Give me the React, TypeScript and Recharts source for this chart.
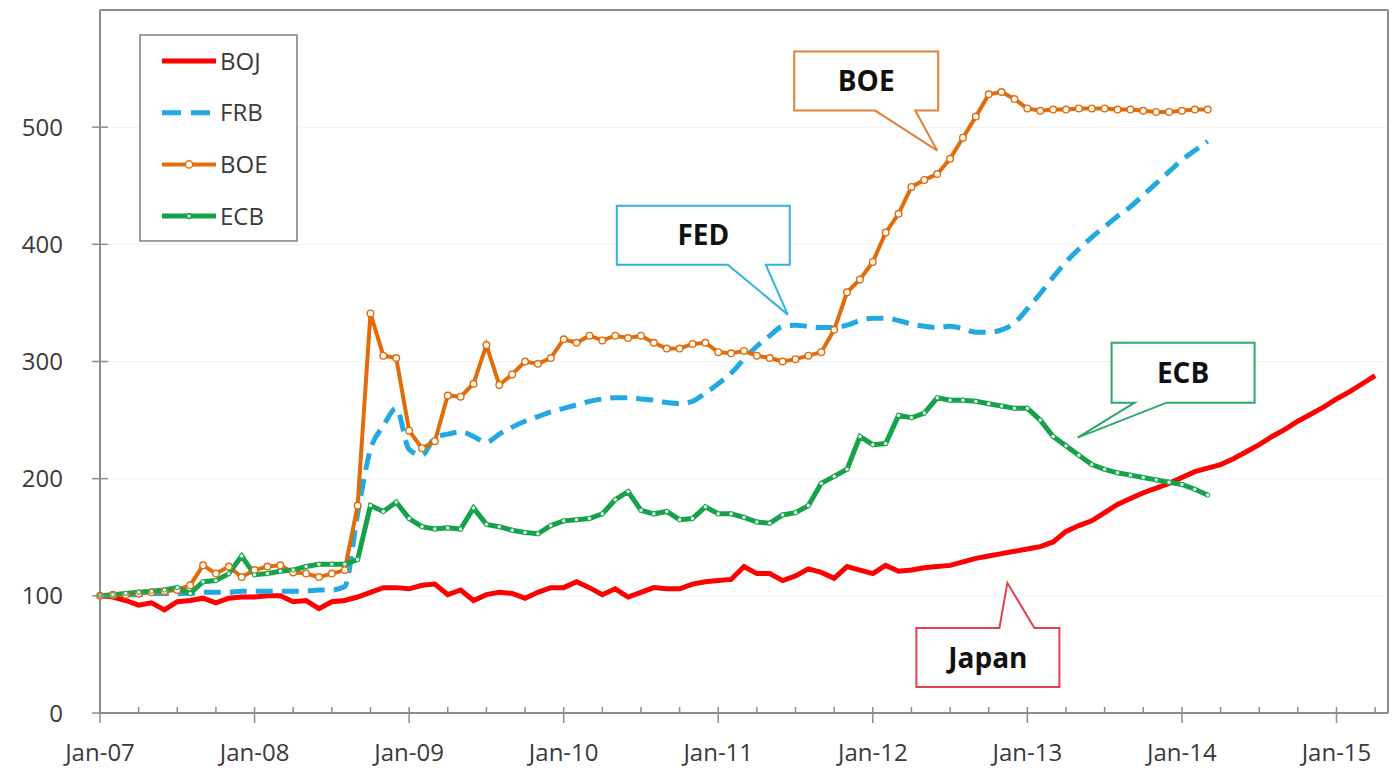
import {
  CartesianGrid,
  Legend,
  Line,
  LineChart,
  ReferenceDot,
  ReferenceLine,
  XAxis,
  YAxis
} from 'recharts';

const FONT = '"Open Sans", "Liberation Sans", sans-serif';
const AXIS = '#8c8c8c';
const TEXT = '#3a3a3a';

const colors = {
  BOJ: '#ff0000',
  FRB: '#22a9e1',
  BOE: '#e36c0a',
  ECB: '#14a34a'
};

// one row per month, Jan-07 = 0
const yearLabels = ['Jan-07', 'Jan-08', 'Jan-09', 'Jan-10', 'Jan-11', 'Jan-12', 'Jan-13', 'Jan-14', 'Jan-15'];
const monthTicks = [0, 3, 6, 9, 12, 15, 18, 21, 24, 27, 30, 33, 36, 39, 42, 45, 48, 51, 54, 57, 60, 63, 66, 69, 72, 75, 78, 81, 84, 87, 90, 93, 96, 99];
const yTicks = [0, 100, 200, 300, 400, 500];

const boj = [
  100, 99, 96, 92, 94, 88, 95, 96, 98, 94,
  98, 99, 99, 100, 100, 95, 96, 89, 95, 96,
  99, 103, 107, 107, 106, 109, 110, 101, 105, 96,
  101, 103, 102, 98, 103, 107, 107, 112, 107, 101,
  106, 99, 103, 107, 106, 106, 110, 112, 113, 114,
  125, 119, 119, 113, 117, 123, 120, 115, 125, 122,
  119, 126, 121, 122, 124, 125, 126, 129, 132, 134,
  136, 138, 140, 142, 146, 155, 160, 164, 171, 178,
  183, 188, 192, 196, 201, 206, 209, 212, 217, 223,
  229, 236, 242, 249, 255, 261, 268, 274, 281, 288
];

const frb = [
  100, 100, 101, 101, 102, 102, 102, 102, 103, 103,
  103, 104, 104, 104, 104, 104, 104, 105, 105, 108,
  170, 225, 245, 260, 225, 220, 235, 238, 240, 236,
  231, 238, 244, 249, 253, 257, 260, 263, 266, 268,
  269, 269, 268, 267, 265, 264, 266, 273, 281, 290,
  302, 313, 322, 330, 331, 330, 329, 329, 331, 335,
  337, 337, 335, 332, 330, 329, 330, 328, 325, 325,
  327, 333, 345, 358, 372, 385, 396, 406, 415, 424,
  432, 442, 452, 462, 472, 480, 488
];

const boe = [
  100, 101, 101, 102, 103, 104, 105, 109, 126, 119,
  125, 116, 122, 125, 126, 120, 119, 116, 119, 122,
  177, 341, 305, 303, 241, 226, 232, 271, 270, 281,
  314, 280, 289, 300, 298, 303, 319, 316, 322, 318,
  322, 320, 322, 316, 311, 311, 315, 316, 308, 307,
  309, 305, 303, 300, 302, 305, 308, 327, 359, 370,
  385, 410, 426, 449, 455, 460, 473, 491, 509, 528,
  530, 524, 516, 514, 515, 515, 516, 516, 516, 515,
  515, 514, 513, 513, 514, 515, 515
];

const ecb = [
  100, 101, 102, 103, 104, 105, 107, 102, 112, 113,
  119, 134, 118, 119, 121, 122, 125, 127, 127, 127,
  131, 177, 172, 180, 166, 159, 157, 158, 157, 175,
  161, 159, 156, 154, 153, 160, 164, 165, 166, 170,
  182, 189, 173, 170, 172, 165, 166, 176, 170, 170,
  167, 163, 162, 169, 171, 177, 196, 202, 208, 236,
  229, 230, 254, 252, 256, 269, 267, 267, 266, 264,
  262, 260, 260, 250, 236, 228, 220, 212, 208, 205,
  203, 201, 199, 197, 195, 191, 186
];

const data = boj.map((v, i) => ({ m: i, BOJ: v, FRB: frb[i], BOE: boe[i], ECB: ecb[i] }));

// callout boxes: tip anchored in data space, box drawn in px around it
const callouts = [
  { label: 'BOE', m: 65, v: 480, color: '#e0813c', box: [-143, 1, -99, -40], tail: [-62, -22], edge: 'bottom' },
  { label: 'FED', m: 53.4, v: 340, color: '#35b3de', box: [-171, 2, -109, -50], tail: [-60, -22], edge: 'bottom' },
  { label: 'ECB', m: 75.9, v: 235, color: '#2ea86a', box: [34, 177, -95, -35], tail: [57, 89], edge: 'bottom' },
  { label: 'Japan', m: 70.45, v: 111, color: '#e2404f', box: [-91, 52, 45, 104], tail: [-8, 27], edge: 'top' }
];

type Callout = (typeof callouts)[number];

const makeCallout = (c: Callout) => (props: any) => {
  const { cx, cy } = props;
  const [l, r, t, b] = c.box;
  const [t0, t1] = c.tail;
  const L = cx + l;
  const R = cx + r;
  const T = cy + t;
  const B = cy + b;
  const d =
    c.edge === 'bottom'
      ? `M${L},${T} L${R},${T} L${R},${B} L${cx + t1},${B} L${cx},${cy} L${cx + t0},${B} L${L},${B} Z`
      : `M${L},${T} L${cx + t0},${T} L${cx},${cy} L${cx + t1},${T} L${R},${T} L${R},${B} L${L},${B} Z`;
  return (
    <g>
      <path d={d} fill="#fff" stroke={c.color} strokeWidth={2} strokeLinejoin="miter" />
      <text x={(L + R) / 2} y={(T + B) / 2} dy="0.36em" textAnchor="middle" fontFamily={FONT} fontWeight={700} fontSize={28} fill="#111">
        {c.label}
      </text>
    </g>
  );
};

const XTick = (props: any) => {
  const { x, y, payload } = props;
  const major = payload.value % 12 === 0;
  return (
    <g>
      <line x1={x} x2={x} y1={y - 6} y2={major ? y + 10 : y} stroke={AXIS} strokeWidth={1.5} />
      {major && (
        <text x={x} y={y + 48} textAnchor="middle" fontFamily={FONT} fontSize={24} fill={TEXT}>
          {yearLabels[payload.value / 12]}
        </text>
      )}
    </g>
  );
};

const YTick = (props: any) => {
  const { x, y, payload } = props;
  return (
    <g>
      <line x1={x - 8} x2={x + 8} y1={y} y2={y} stroke={AXIS} strokeWidth={1.5} />
      <text x={x - 37} y={y} dy="0.36em" textAnchor="end" fontFamily={FONT} fontSize={24} fill={TEXT}>
        {payload.value}
      </text>
    </g>
  );
};

const legendItems = [
  { key: 'BOJ', dash: undefined, dot: 0, width: 5 },
  { key: 'FRB', dash: '19 10', dot: 0, width: 5 },
  { key: 'BOE', dash: undefined, dot: 3.6, width: 4 },
  { key: 'ECB', dash: undefined, dot: 2.4, width: 5 }
] as const;

const LegendBox = () => (
  <svg width={160} height={209} style={{ display: 'block' }}>
    <rect x={1} y={1} width={157} height={206} fill="#fff" stroke="#7f7f7f" strokeWidth={1.5} />
    {legendItems.map((it, i) => {
      const cy = 27 + i * 51.7;
      const color = colors[it.key];
      return (
        <g key={it.key}>
          <line x1={23} x2={77} y1={cy} y2={cy} stroke={color} strokeWidth={it.width} strokeDasharray={it.dash} />
          {it.dot > 0 && <circle cx={50} cy={cy} r={it.dot} fill="#fff" stroke={color} strokeWidth={1.4} />}
          <text x={81} y={cy} dy="0.36em" fontFamily={FONT} fontSize={24} fill={TEXT}>
            {it.key}
          </text>
        </g>
      );
    })}
  </svg>
);

export default function App() {
  return (
    <div style={{ position: 'absolute', left: 0, top: 0, background: '#fff' }}>
      <LineChart width={1393} height={771} data={data} margin={{ top: 10, right: 5, left: 0, bottom: 8 }}>
        <CartesianGrid vertical={false} stroke="#f2f2f2" />
        <XAxis
          dataKey="m"
          type="number"
          domain={[0, 100]}
          ticks={monthTicks}
          interval={0}
          height={50}
          tickSize={0}
          tickMargin={0}
          tickLine={false}
          tick={<XTick />}
          axisLine={{ stroke: AXIS, strokeWidth: 2 }}
        />
        <YAxis
          type="number"
          domain={[0, 600]}
          ticks={yTicks}
          interval={0}
          width={100}
          tickSize={0}
          tickMargin={0}
          tickLine={false}
          tick={<YTick />}
          axisLine={{ stroke: AXIS, strokeWidth: 2 }}
        />
        <ReferenceLine y={600} stroke={AXIS} strokeWidth={2} />
        <ReferenceLine x={100} stroke={AXIS} strokeWidth={2} />
        <Legend
          layout="vertical"
          align="center"
          verticalAlign="middle"
          content={<LegendBox />}
          wrapperStyle={{ left: 139, top: 34, width: 160, height: 209 }}
        />
        <Line type="linear" dataKey="BOJ" stroke={colors.BOJ} strokeWidth={5} dot={false} isAnimationActive={false} />
        <Line
          type="monotone"
          dataKey="FRB"
          stroke={colors.FRB}
          strokeWidth={5}
          strokeDasharray="17 9"
          dot={false}
          isAnimationActive={false}
        />
        <Line
          type="linear"
          dataKey="BOE"
          stroke={colors.BOE}
          strokeWidth={4}
          dot={{ r: 3.3, fill: '#fff', stroke: colors.BOE, strokeWidth: 1.4 }}
          isAnimationActive={false}
        />
        <Line
          type="linear"
          dataKey="ECB"
          stroke={colors.ECB}
          strokeWidth={5}
          dot={{ r: 2.2, fill: '#eaf7ee', stroke: colors.ECB, strokeWidth: 1 }}
          isAnimationActive={false}
        />
        {callouts.map((c) => (
          <ReferenceDot key={c.label} x={c.m} y={c.v} r={0} ifOverflow="visible" shape={makeCallout(c)} />
        ))}
      </LineChart>
    </div>
  );
}
